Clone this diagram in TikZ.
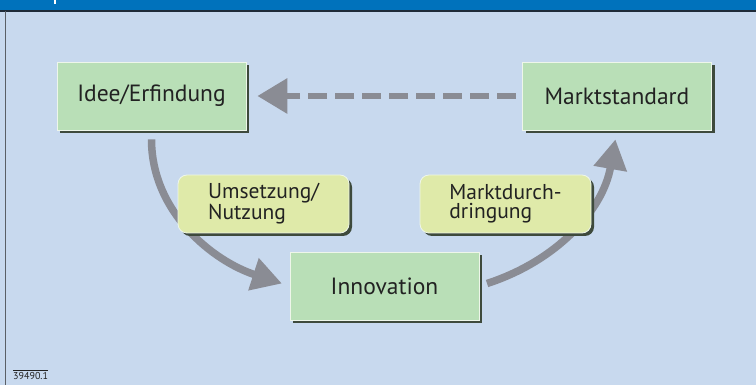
\documentclass[tikz,border=0pt]{standalone}
\usepackage{fontspec}
\setmainfont{PT Sans}
\usepackage{xcolor}
\usepackage{tikz}
\usetikzlibrary{arrows.meta,shadows}
\definecolor{bg}{HTML}{C8D9EE}
\definecolor{bar}{HTML}{0072BC}
\definecolor{barline}{HTML}{1F2B38}
\definecolor{frame}{HTML}{5A5F66}
\definecolor{boxG}{HTML}{B9DFB7}
\definecolor{boxY}{HTML}{DFEAA9}
\definecolor{edge}{HTML}{EEF6EA}
\definecolor{shade}{HTML}{3E4A3C}
\definecolor{arr}{HTML}{8A8C94}
\definecolor{ink}{HTML}{222222}
\tikzset{
  stage/.style={rectangle, fill=boxG, draw=edge, line width=0.8pt,
    minimum width=189pt, minimum height=68pt, text=ink,
    font=\fontsize{23.5}{25}\selectfont,
    drop shadow={shadow xshift=3pt, shadow yshift=-3pt, fill=shade, opacity=1}},
  phase/.style={rectangle, rounded corners=9pt, fill=boxY, draw=edge, line width=0.8pt,
    minimum width=171pt, minimum height=58pt, text=ink, align=left,
    font=\fontsize{21.5}{19.5}\selectfont,
    drop shadow={shadow xshift=3pt, shadow yshift=-3pt, fill=shade, opacity=1}},
  flow/.style={arr, line width=7.5pt, -{Triangle[length=30pt,width=32pt]}},
  back/.style={arr, line width=6.5pt, dash pattern=on 19pt off 8pt,
    -{Triangle[length=30pt,width=34pt]}}
}
\begin{document}
\begin{tikzpicture}[x=1pt,y=1pt]
  \useasboundingbox (0,0) rectangle (756,385);
  \fill[bg] (0,0) rectangle (756,385);
  \fill[bar] (0,374) rectangle (756,385);
  \fill[white] (54,381) rectangle (56,385);
  \draw[barline, line width=1.2pt] (0,374) -- (756,374);
  \draw[frame, line width=1.5pt] (5.5,0) -- (5.5,374);

  % boxes first, then connectors, phases on top
  \coordinate (idee)  at (151.5,289);
  \coordinate (markt) at (617,289);
  \coordinate (innov) at (384.5,99);

  \node[stage] (I) at (idee)  {Idee/Erfindung};
  \node[stage] (M) at (markt) {Marktstandard};
  \node[stage] (N) at (innov) {Innovation};

  \draw[back, shorten <=6pt, shorten >=11pt] (M.west) -- (I.east);
  \draw[flow, shorten <=9pt, shorten >=8pt] (I.south) to[out=-90, in=162] (N.west);
  \draw[flow, shorten <=8pt, shorten >=9pt] (N.east) to[out=18, in=-100] (M.south);

  \node[phase] (U) at (263.5,181) {Umsetzung/\\Nutzung};
  \node[phase] (D) at (505.5,181) {Marktdurch-\\dringung};

  \node[anchor=base west, inner sep=0pt, text=ink, font=\fontsize{10}{11}\selectfont] (nr) at (13,5) {39490.1};
  \draw[ink, line width=0.6pt] ([yshift=2pt]nr.north west) -- ([yshift=2pt]nr.north east);
\end{tikzpicture}
\end{document}
